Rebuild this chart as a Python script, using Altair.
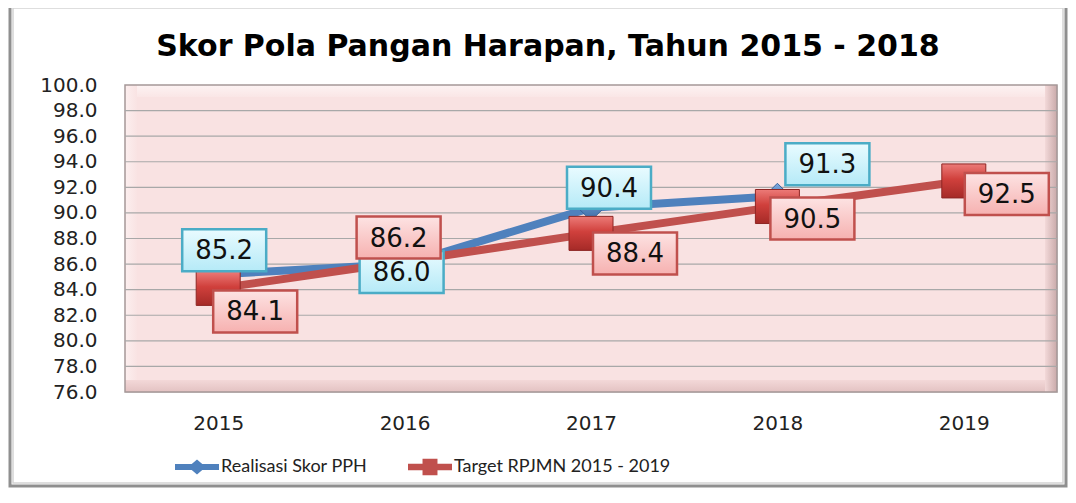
import altair as alt
import pandas as pd

# ---------------- data ----------------
years = ["2015", "2016", "2017", "2018", "2019"]
realisasi = [85.2, 86.0, 90.4, 91.3]
target = [84.1, 86.2, 88.4, 90.5, 92.5]
series_names = ["Realisasi Skor PPH", "Target RPJMN 2015 - 2019"]
y_ticks = [76, 78, 80, 82, 84, 86, 88, 90, 92, 94, 96, 98, 100]
title_text = "Skor Pola Pangan Harapan, Tahun 2015 - 2018"

rows = []
for yr, v in zip(years, realisasi):
    rows.append({"year": yr, "value": v, "series": series_names[0]})
for yr, v in zip(years, target):
    rows.append({"year": yr, "value": v, "series": series_names[1]})
df = pd.DataFrame(rows)
grid_df = pd.DataFrame({"tick": y_ticks[1:-1]})

# ---------------- style ----------------
W, H = 932, 307
BLUE = "#4f81bd"
RED = "#c0504d"
AXIS_FONT = "DejaVu Sans"

# label placement (pixel offsets of each data label from its point)
label_offsets = {
    (series_names[0], "2015"): (6, -24),
    (series_names[0], "2016"): (-3, 8),
    (series_names[0], "2017"): (18, -20),
    (series_names[0], "2018"): (50, -32),
    (series_names[1], "2015"): (37, 23),
    (series_names[1], "2016"): (-6, -24),
    (series_names[1], "2017"): (44, 20),
    (series_names[1], "2018"): (35, 12),
    (series_names[1], "2019"): (43, 13),
}

x_scale = alt.Scale(domain=years, type="point", padding=0.5)
y_scale = alt.Scale(domain=[76, 100], nice=False, zero=False)
x_axis = alt.Axis(title=None, labelAngle=0, ticks=False, tickSize=0, domain=False,
                  grid=False, labelFont=AXIS_FONT, labelFontSize=20,
                  labelColor="#222222", labelPadding=21)
y_axis = alt.Axis(title=None, values=y_ticks, format=".1f", ticks=False, tickSize=0,
                  domain=False, grid=False, labelFont=AXIS_FONT, labelFontSize=20,
                  labelColor="#222222", labelPadding=28)

X = alt.X("year:N", scale=x_scale, axis=x_axis)
Y = alt.Y("value:Q", scale=y_scale, axis=y_axis)

one = alt.Data(values=[{}])


def deco_rect(x0, x1, y0, y1, **kw):
    return alt.Chart(one).mark_rect(**kw).encode(
        x=alt.value(x0), x2=alt.value(x1), y=alt.value(y0), y2=alt.value(y1))


B = 12
layers = []
# outer frame of the whole chart
layers.append(deco_rect(-115, W + 9, -80, H + 94, filled=False, stroke="#8f8f8f", strokeWidth=3))
layers.append(deco_rect(-112, W + 6, -77, H + 91, filled=False, stroke="#d4d4d4", strokeWidth=1.5))
# beveled plot background
layers.append(deco_rect(0, W, 0, H, fill="#f9e2e2"))
layers.append(deco_rect(0, W, 0, B, fill={"gradient": "linear", "x1": 0, "y1": 0, "x2": 0, "y2": 1,
                                          "stops": [{"offset": 0, "color": "#fdf3f3"}, {"offset": 1, "color": "#fae6e6"}]}))
layers.append(deco_rect(0, B, 0, H, fill={"gradient": "linear", "x1": 0, "y1": 0, "x2": 1, "y2": 0,
                                          "stops": [{"offset": 0, "color": "#fcefef"}, {"offset": 1, "color": "#f9e3e3"}]}))
layers.append(deco_rect(0, W, H - B, H, fill={"gradient": "linear", "x1": 0, "y1": 0, "x2": 0, "y2": 1,
                                              "stops": [{"offset": 0, "color": "#f3d8d8"}, {"offset": 1, "color": "#e3c2c2"}]}))
layers.append(deco_rect(W - B, W, 0, H, fill={"gradient": "linear", "x1": 0, "y1": 0, "x2": 1, "y2": 0,
                                              "stops": [{"offset": 0, "color": "#f3d9d9"}, {"offset": 1, "color": "#c9aaaa"}]}))
layers.append(deco_rect(0, W, 0, H, filled=False, stroke="#a59898", strokeWidth=1.5))

# chart title
layers.append(alt.Chart(alt.Data(values=[{"t": title_text}])).mark_text(
    font=AXIS_FONT, fontSize=30, fontWeight="bold", color="#000000",
    align="center", baseline="alphabetic").encode(
    text="t:N", x=alt.value(W / 2 - 43), y=alt.value(-29)))

# gridlines
layers.append(alt.Chart(grid_df).mark_rule(color="#a8a8a8", strokeWidth=1.2).encode(
    y=alt.Y("tick:Q", scale=y_scale, axis=y_axis), x=alt.value(0), x2=alt.value(W)))

# invisible layer that carries the legend
leg_blue = "M-2,-0.27H2V0.27H-2Z M0,-0.68L0.8,0L0,0.68L-0.8,0Z"
leg_red = "M-2,-0.3H2V0.3H-2Z M-0.68,-0.75H0.68V0.75H-0.68Z"
layers.append(alt.Chart(df).mark_point(filled=True, opacity=0).encode(
    x=X, y=Y,
    color=alt.Color("series:N", scale=alt.Scale(domain=series_names, range=[BLUE, RED]),
                    legend=alt.Legend(title=None, orient="none", direction="horizontal",
                                      legendX=61, legendY=371, symbolOpacity=1,
                                      symbolSize=484, symbolStrokeWidth=0,
                                      labelFont="Lato", labelFontSize=18, labelColor="#222222",
                                      labelLimit=500, labelOffset=13, columnPadding=40, padding=0)),
    shape=alt.Shape("series:N", scale=alt.Scale(domain=series_names, range=[leg_blue, leg_red]),
                    legend=None),
))

base = alt.Chart(df)
for name, col in zip(series_names, [BLUE, RED]):
    layers.append(base.transform_filter(alt.datum.series == name).mark_line(
        color=col, strokeWidth=8, strokeJoin="round", strokeCap="round").encode(x=X, y=Y))

# markers
layers.append(base.transform_filter(alt.datum.series == series_names[0]).mark_point(
    shape="diamond", size=676, filled=True, opacity=1,
    fill={"gradient": "linear", "x1": 0, "y1": 0, "x2": 0, "y2": 1,
          "stops": [{"offset": 0, "color": "#7aa6dc"}, {"offset": 1, "color": "#3b6aa3"}]},
    stroke="#36639a", strokeWidth=1).encode(x=X, y=Y))
layers.append(base.transform_filter(alt.datum.series == series_names[1]).mark_point(
    shape="M-1,-0.773H1V0.773H-1Z", size=1936, filled=True, opacity=1,
    fill={"gradient": "linear", "x1": 0, "y1": 0, "x2": 0, "y2": 1,
          "stops": [{"offset": 0, "color": "#ec7b78"}, {"offset": 0.45, "color": "#d0403c"},
                    {"offset": 1, "color": "#a52a27"}]},
    stroke="#8e2624", strokeWidth=1).encode(x=X, y=Y))

# data labels
box_styles = {
    series_names[0]: ({"gradient": "linear", "x1": 0, "y1": 0, "x2": 0, "y2": 1,
                       "stops": [{"offset": 0, "color": "#e9fbff"}, {"offset": 1, "color": "#b5eaf7"}]},
                      "#4bacc6"),
    series_names[1]: ({"gradient": "linear", "x1": 0, "y1": 0, "x2": 0, "y2": 1,
                       "stops": [{"offset": 0, "color": "#fde3e3"}, {"offset": 1, "color": "#f6b1b0"}]},
                      "#c0504d"),
}
for name in series_names:
    for yr in years:
        key = (name, yr)
        if key not in label_offsets:
            continue
        dx, dy = label_offsets[key]
        fill, stroke = box_styles[name]
        sub = base.transform_filter((alt.datum.series == name) & (alt.datum.year == yr))
        layers.append(sub.mark_point(
            shape="M-1,-0.5H1V0.5H-1Z", size=84 * 84, filled=True, opacity=1,
            fill=fill, stroke=stroke, strokeWidth=2.5, xOffset=dx, yOffset=dy).encode(x=X, y=Y))
        layers.append(sub.mark_text(
            dx=dx, dy=dy + 1, font=AXIS_FONT, fontSize=26, color="#111111",
            align="center", baseline="middle").encode(
            x=X, y=Y, text=alt.Text("value:Q", format=".1f")))

chart = alt.layer(*layers).properties(
    width=W, height=H,
    autosize=alt.AutoSizeParams(type="none"),
    padding={"left": 117, "top": 77, "right": 11, "bottom": 96},
).configure_view(stroke=None).configure(background="white")

chart.save("out.html", embed_options={"renderer": "svg", "actions": False})
